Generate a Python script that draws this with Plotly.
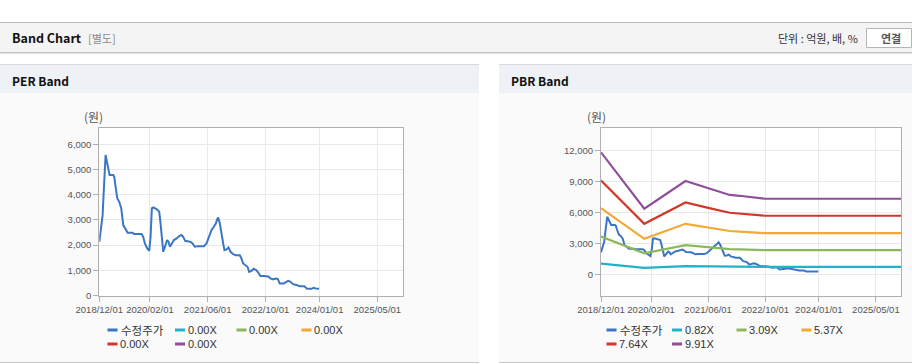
import plotly.graph_objects as go

W, H = 912, 364

# ---------------- data ----------------
price_dates = [
    "2018-12-01", "2018-12-12", "2018-12-29", "2019-01-06", "2019-01-15", "2019-01-23",
    "2019-02-06", "2019-02-18", "2019-02-26", "2019-03-29", "2019-04-06", "2019-04-17",
    "2019-05-02", "2019-05-18", "2019-06-04", "2019-06-21", "2019-07-05", "2019-07-28",
    "2019-09-08", "2019-09-19", "2019-11-22", "2019-12-06", "2019-12-20", "2020-01-09",
    "2020-01-26", "2020-02-06", "2020-02-17", "2020-02-29", "2020-03-28", "2020-04-19",
    "2020-04-30", "2020-05-12", "2020-05-23", "2020-06-06", "2020-06-14", "2020-06-25",
    "2020-07-07", "2020-07-18", "2020-08-04", "2020-08-21", "2020-09-12", "2020-10-04",
    "2020-10-24", "2020-11-07", "2020-11-24", "2021-01-08", "2021-01-25", "2021-02-13",
    "2021-03-13", "2021-04-30", "2021-05-23", "2021-06-14", "2021-07-04", "2021-07-23",
    "2021-08-09", "2021-08-20", "2021-08-29", "2021-09-12", "2021-09-29", "2021-10-10",
    "2021-10-21", "2021-11-07", "2021-11-24", "2021-12-11", "2022-01-02", "2022-01-24",
    "2022-02-27", "2022-03-13", "2022-03-27", "2022-04-19", "2022-05-03", "2022-05-17",
    "2022-06-05", "2022-06-25", "2022-07-17", "2022-08-03", "2022-08-20", "2022-09-17",
    "2022-10-26", "2022-11-12", "2022-12-05", "2022-12-27", "2023-01-13", "2023-01-30",
    "2023-03-05", "2023-03-21", "2023-04-13", "2023-04-30", "2023-05-22", "2023-06-25",
    "2023-07-17", "2023-08-26", "2023-09-17", "2023-10-23", "2023-11-12", "2023-11-29",
    "2023-12-27",
]
price_values = [
    2130, 2660, 3190, 3990, 4780, 5580,
    5245, 4980, 4780, 4780, 4720, 4320,
    3850, 3720, 3460, 2795, 2660, 2490,
    2490, 2440, 2440, 2330, 2066, 1870,
    1775, 2330, 3460, 3500, 3430, 3325,
    2860, 2066, 1735, 1935, 2066, 2200,
    2130, 1935, 2066, 2200, 2265, 2360,
    2400, 2330, 2170, 2130, 2066, 1935,
    1960, 1960, 2066, 2330, 2600, 2730,
    2860, 3020, 3100, 2860, 2465, 2066,
    1800, 1830, 1910, 1735, 1640, 1600,
    1600, 1470, 1270, 1205, 1140, 940,
    980, 1060, 1005, 900, 770, 770,
    755, 675, 635, 675, 660, 475,
    475, 530, 580, 545, 450, 410,
    370, 370, 265, 265, 305, 280,
    265,
]

band_dates = ["2018-12-01", "2019-12-05", "2020-11-20", "2021-03-22", "2021-06-29",
              "2021-12-02", "2022-02-25", "2022-07-17", "2022-09-29", "2025-12-01"]
pbr_band_082 = [1040, 620, 800, 780, 760, 730, 720, 720, 720, 720]
pbr_band_309 = [3660, 2040, 2830, 2690, 2600, 2450, 2420, 2370, 2350, 2350]
pbr_band_537 = [6420, 3440, 4900, 4660, 4480, 4200, 4140, 4030, 3990, 3990]
pbr_band_764 = [9110, 4900, 6970, 6620, 6380, 5970, 5890, 5730, 5680, 5680]
pbr_band_991 = [11840, 6360, 9050, 8590, 8270, 7700, 7620, 7430, 7330, 7330]

per_names = ["수정주가", "0.00X", "0.00X", "0.00X", "0.00X", "0.00X"]
pbr_names = ["수정주가", "0.82X", "3.09X", "5.37X", "7.64X", "9.91X"]
series_colors = ["#3b76c4", "#22b2c8", "#8cb85c", "#f3a935", "#d2372b", "#8f4f9a"]

x_tick_vals = ["2018-12-01", "2020-02-01", "2021-06-01", "2022-10-01", "2024-01-01", "2025-05-01"]
x_tick_text = ["2018/12/01", "2020/02/01", "2021/06/01", "2022/10/01", "2024/01/01", "2025/05/01"]
per_y_ticks = [0, 1000, 2000, 3000, 4000, 5000, 6000]
pbr_y_ticks = [0, 3000, 6000, 9000, 12000]

# ---------------- helpers ----------------
def px(x):
    return x / W

def py(y):
    return 1 - y / H

KR = "Noto Sans CJK KR"
NUM = "Liberation Sans"

fig = go.Figure()

# PER: price only (band multiples are all 0.00X)
fig.add_trace(go.Scatter(x=price_dates, y=price_values, mode="lines",
                         line=dict(color=series_colors[0], width=2),
                         name=per_names[0], showlegend=False, xaxis="x", yaxis="y"))

# PBR
fig.add_trace(go.Scatter(x=price_dates, y=price_values, mode="lines",
                         line=dict(color=series_colors[0], width=2),
                         name=pbr_names[0], showlegend=False, xaxis="x2", yaxis="y2"))
for vals, name, col in zip([pbr_band_082, pbr_band_309, pbr_band_537, pbr_band_764, pbr_band_991],
                           pbr_names[1:], series_colors[1:]):
    fig.add_trace(go.Scatter(x=band_dates, y=vals, mode="lines",
                             line=dict(color=col, width=2.2),
                             name=name, showlegend=False, xaxis="x2", yaxis="y2"))

axis_common = dict(showline=True, mirror=True, linecolor="#b0b0b0", linewidth=1,
                   showgrid=True, gridcolor="#e9e9e9", gridwidth=1, automargin=False,
                   ticks="outside", ticklen=5, tickcolor="#b0b0b0", tickangle=0,
                   tickfont=dict(family=NUM, size=9.5, color="#555555"), zeroline=False)

plot_top, plot_bot = 128, 295.5
ydom = [py(plot_bot), py(plot_top)]

fig.update_layout(
    width=W, height=H, margin=dict(l=0, r=0, t=0, b=0, pad=0), autosize=False,
    paper_bgcolor="#ffffff", plot_bgcolor="rgba(0,0,0,0)",
    showlegend=False,
    xaxis=dict(domain=[px(99.3), px(402.7)], anchor="y", type="date",
               range=["2018-12-01", "2025-12-01"], tickvals=x_tick_vals, ticktext=x_tick_text,
               **axis_common),
    yaxis=dict(domain=ydom, anchor="x", range=[0, 6650], tickvals=per_y_ticks,
               tickformat=",d", **axis_common),
    xaxis2=dict(domain=[px(601), px(901)], anchor="y2", type="date",
                range=["2018-12-01", "2025-12-01"], tickvals=x_tick_vals, ticktext=x_tick_text,
                **axis_common),
    yaxis2=dict(domain=ydom, anchor="x2", range=[-2060, 14200], tickvals=pbr_y_ticks,
                tickformat=",d", **axis_common),
)

shapes = []
def rect(x0, y0, x1, y1, fill, line=None, lw=0):
    shapes.append(dict(type="rect", xref="paper", yref="paper",
                       x0=px(x0), x1=px(x1), y0=py(y1), y1=py(y0),
                       fillcolor=fill, line=dict(color=line or fill, width=lw), layer="below"))

def hline(x0, x1, y, color, w=1):
    shapes.append(dict(type="line", xref="paper", yref="paper",
                       x0=px(x0), x1=px(x1), y0=py(y), y1=py(y),
                       line=dict(color=color, width=w), layer="below"))

# top header bar
rect(0, 22, W, 52, "#f4f4f4")
hline(0, W, 22.5, "#bdbdbd")
hline(0, W, 52.5, "#c4c4c4")
hline(0, W, 53.5, "#e2e2e2")
# panels
for x0, x1 in [(0, 479), (499, W)]:
    rect(x0, 64, x1, 93, "#eef1f6")
    hline(x0, x1, 64.5, "#d6d9de")
    rect(x0, 93, x1, 362, "#fafafa")
    hline(x0, x1, 362.5, "#c8c8c8")
# plot area backgrounds
for xr, yr in [("x", "y"), ("x2", "y2")]:
    shapes.append(dict(type="rect", xref=xr + " domain", yref=yr + " domain", x0=0, x1=1, y0=0, y1=1,
                       fillcolor="#ffffff", line=dict(width=0), layer="below"))
# button
shapes.append(dict(type="rect", xref="paper", yref="paper", x0=px(866.5), x1=px(911.5), y0=py(47.5), y1=py(28.5),
                   fillcolor="#ffffff", line=dict(color="#b5b5b5", width=1), layer="above"))

annotations = []
def text(x, y, s, size=11, color="#333333", family=KR, anchor="left", bold=False):
    annotations.append(dict(x=px(x), y=py(y), xref="paper", yref="paper", text=("<b>%s</b>" % s) if bold else s,
                            showarrow=False, xanchor=anchor, yanchor="middle",
                            font=dict(size=size, color=color, family=family)))

text(10, 38, "Band Chart", size=12.5, color="#111111", bold=True)
text(86, 38.5, "[별도]", size=11, color="#8a8a8a")
text(860, 38.5, "단위 : 억원, 배, %", size=11, color="#333333", anchor="right")
text(891, 38, "연결", size=11, color="#555555", anchor="center", bold=True)
text(10, 80, "PER Band", size=12, color="#111111", bold=True)
text(509, 80, "PBR Band", size=12, color="#111111", bold=True)
text(93, 117, "(원)", size=12, color="#555555", anchor="center")
text(596, 117, "(원)", size=12, color="#555555", anchor="center")

# manual legends
def legend(names, starts, rows):
    for i, name in enumerate(names):
        x0 = starts[i]
        y = rows[i]
        shapes.append(dict(type="line", xref="paper", yref="paper", x0=px(x0), x1=px(x0 + 10),
                           y0=py(y), y1=py(y), line=dict(color=series_colors[i], width=3), layer="above"))
        if i == 0:
            text(x0 + 11, y, name, size=11.5, color="#333333", family=KR)
        else:
            text(x0 + 10.5, y, name, size=11, color="#333333", family=NUM)

per_starts = [107.5, 175, 236.5, 301.5, 107.5, 175]
pbr_starts = [606.5, 672, 736.5, 801.5, 606.5, 672]
rows = [330, 330, 330, 330, 344, 344]
legend(per_names, per_starts, rows)
legend(pbr_names, pbr_starts, rows)

fig.update_layout(shapes=shapes, annotations=annotations)
fig.write_html("out.html", config={"displayModeBar": False},
               post_script="document.body.style.margin='0px';document.body.style.overflow='hidden';")
